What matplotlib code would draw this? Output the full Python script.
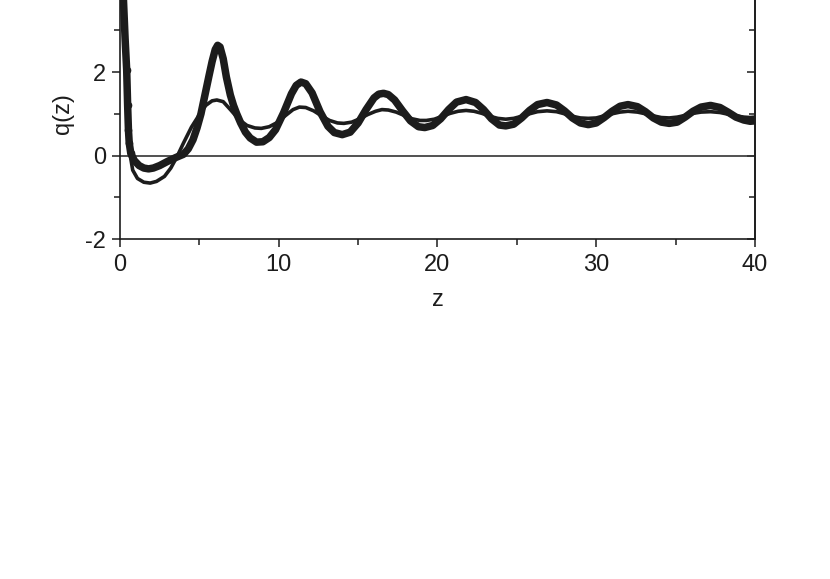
import numpy as np
import matplotlib.pyplot as plt
from matplotlib.ticker import MultipleLocator

# --- curve: thick curve with dots ---
z_thick = [0.10, 0.15, 0.22, 0.32, 0.42, 0.48, 0.53, 0.58, 0.68, 0.90, 1.2, 1.5, 1.8, 2.1,
           2.5, 3.0, 3.5, 4.0, 4.3, 4.6, 4.85, 5.1, 5.35, 5.6, 5.8, 6.0, 6.15, 6.3, 6.5,
           6.7, 6.95, 7.15, 7.35, 7.6, 7.9, 8.2, 8.6, 9.0, 9.4, 9.8, 10.3, 10.8, 11.1, 11.4,
           11.7, 12.1, 12.6, 13.1, 13.5, 14.0, 14.5, 15.0, 15.5, 16.0, 16.3, 16.6, 16.9,
           17.3, 17.8, 18.3, 18.8, 19.2, 19.7, 20.2, 20.7, 21.2, 21.8, 22.4, 22.9, 23.4,
           23.9, 24.3, 24.8, 25.3, 25.8, 26.3, 26.9, 27.5, 28.0, 28.5, 29.0, 29.5, 30.0,
           30.5, 31.0, 31.5, 32.0, 32.6, 33.1, 33.6, 34.1, 34.6, 35.1, 35.6, 36.1, 36.6,
           37.2, 37.8, 38.3, 38.8, 39.3, 39.7, 40.0]
q_thick = [6.0, 4.5, 3.7, 2.8, 2.05, 1.2, 0.62, 0.30, 0.05, -0.12, -0.24, -0.30, -0.32, -0.30,
           -0.24, -0.14, -0.05, 0.03, 0.16, 0.38, 0.66, 1.00, 1.45, 1.90, 2.25, 2.54, 2.64, 2.60, 2.32,
           1.88, 1.45, 1.20, 1.00, 0.78, 0.56, 0.42, 0.32, 0.33, 0.43, 0.62, 1.02, 1.48, 1.68, 1.76,
           1.72, 1.50, 1.05, 0.70, 0.55, 0.50, 0.56, 0.78, 1.10, 1.38, 1.47, 1.49, 1.46,
           1.33, 1.07, 0.83, 0.69, 0.67, 0.72, 0.88, 1.10, 1.28, 1.34, 1.27, 1.10, 0.88,
           0.73, 0.71, 0.75, 0.90, 1.08, 1.22, 1.27, 1.21, 1.07, 0.90, 0.78, 0.74, 0.78,
           0.91, 1.06, 1.18, 1.22, 1.17, 1.05, 0.90, 0.80, 0.77, 0.80, 0.92, 1.06, 1.16,
           1.20, 1.15, 1.04, 0.92, 0.85, 0.82, 0.83]

# --- thin curve ---
z_thin = [0.10, 0.20, 0.30, 0.40, 0.50, 0.60, 0.80, 1.1, 1.5, 1.9, 2.3, 2.8, 3.2, 3.6, 4.0,
          4.5, 5.0, 5.4, 5.8, 6.1, 6.5, 7.0, 7.5, 8.0, 8.5, 8.9, 9.4, 9.9, 10.4, 10.9, 11.3,
          11.7, 12.2, 12.7, 13.2, 13.7, 14.1, 14.6, 15.1, 15.6, 16.1, 16.5, 16.9, 17.4, 17.9,
          18.4, 18.9, 19.3, 19.8, 20.3, 20.8, 21.3, 21.8, 22.3, 22.8, 23.3, 23.8, 24.3, 24.8,
          25.3, 25.8, 26.3, 26.9, 27.5, 28.0, 28.5, 29.0, 29.5, 30.0, 30.5, 31.0, 31.5, 32.0,
          32.6, 33.1, 33.6, 34.1, 34.6, 35.1, 35.6, 36.1, 36.6, 37.2, 37.8, 38.3, 38.8, 39.3,
          39.7, 40.0]
q_thin = [6.0, 4.0, 2.9, 1.9, 0.85, 0.10, -0.35, -0.55, -0.64, -0.66, -0.62, -0.50, -0.30, -0.02, 0.30,
          0.68, 0.98, 1.20, 1.31, 1.33, 1.29, 1.08, 0.86, 0.72, 0.66, 0.65, 0.69, 0.79, 0.95, 1.10, 1.16,
          1.15, 1.07, 0.95, 0.84, 0.78, 0.77, 0.80, 0.88, 0.98, 1.06, 1.10, 1.09, 1.04, 0.96,
          0.88, 0.84, 0.84, 0.87, 0.94, 1.01, 1.06, 1.08, 1.06, 1.01, 0.94, 0.89, 0.87, 0.89,
          0.94, 1.00, 1.05, 1.07, 1.05, 1.00, 0.94, 0.90, 0.89, 0.90, 0.95, 1.00, 1.04, 1.06,
          1.04, 1.00, 0.95, 0.91, 0.90, 0.92, 0.96, 1.01, 1.04, 1.05, 1.03, 0.99, 0.95, 0.92,
          0.91, 0.92]

plt.rcParams['font.family'] = ['Liberation Sans', 'DejaVu Sans']
ink = '#1c1c1c'
fs = 17

fig = plt.figure(figsize=(8.3, 5.79), dpi=100)
ax = fig.add_axes([0.1446, 0.5872, 0.765, 0.4326])

ax.axhline(0, color='#333333', lw=1.2, zorder=1)
ax.plot(z_thin, q_thin, color=ink, lw=2.6, zorder=2)
ax.plot(z_thick, q_thick, color=ink, lw=5.4, solid_capstyle='round',
        solid_joinstyle='round', zorder=3)
ax.plot(z_thick[4:9], q_thick[4:9], 'o', color=ink, ms=4.5, zorder=4)

ax.set_xlim(0, 40)
ax.set_ylim(-2, 4)
ax.xaxis.set_major_locator(MultipleLocator(10))
ax.xaxis.set_minor_locator(MultipleLocator(5))
ax.set_yticks([-2, 0, 2])
ax.set_yticklabels(['-2', '0', '2'])
ax.yaxis.set_minor_locator(MultipleLocator(1))
ax.tick_params(which='both', direction='out', width=1.1, labelsize=fs, colors=ink)
ax.tick_params(which='major', length=6)
ax.tick_params(which='minor', length=4)
ax.tick_params(axis='y', pad=4)
ax.tick_params(axis='x', pad=5)
for s in ax.spines.values():
    s.set_linewidth(1.2)
    s.set_color(ink)

# right-side ticks point inward
sec = ax.secondary_yaxis('right')
sec.set_yticks([-2, 0, 2, 4])
sec.yaxis.set_minor_locator(MultipleLocator(1))
sec.tick_params(which='both', direction='in', width=1.1, labelright=False, colors=ink)
sec.tick_params(which='major', length=6)
sec.tick_params(which='minor', length=4)
sec.spines['right'].set_linewidth(1.2)
sec.spines['right'].set_color(ink)

ax.set_xlabel('z', fontsize=fs, color=ink, labelpad=9)
ax.set_ylabel('q(z)', fontsize=fs, color=ink, labelpad=8)

fig.savefig('out.png', dpi=100)
